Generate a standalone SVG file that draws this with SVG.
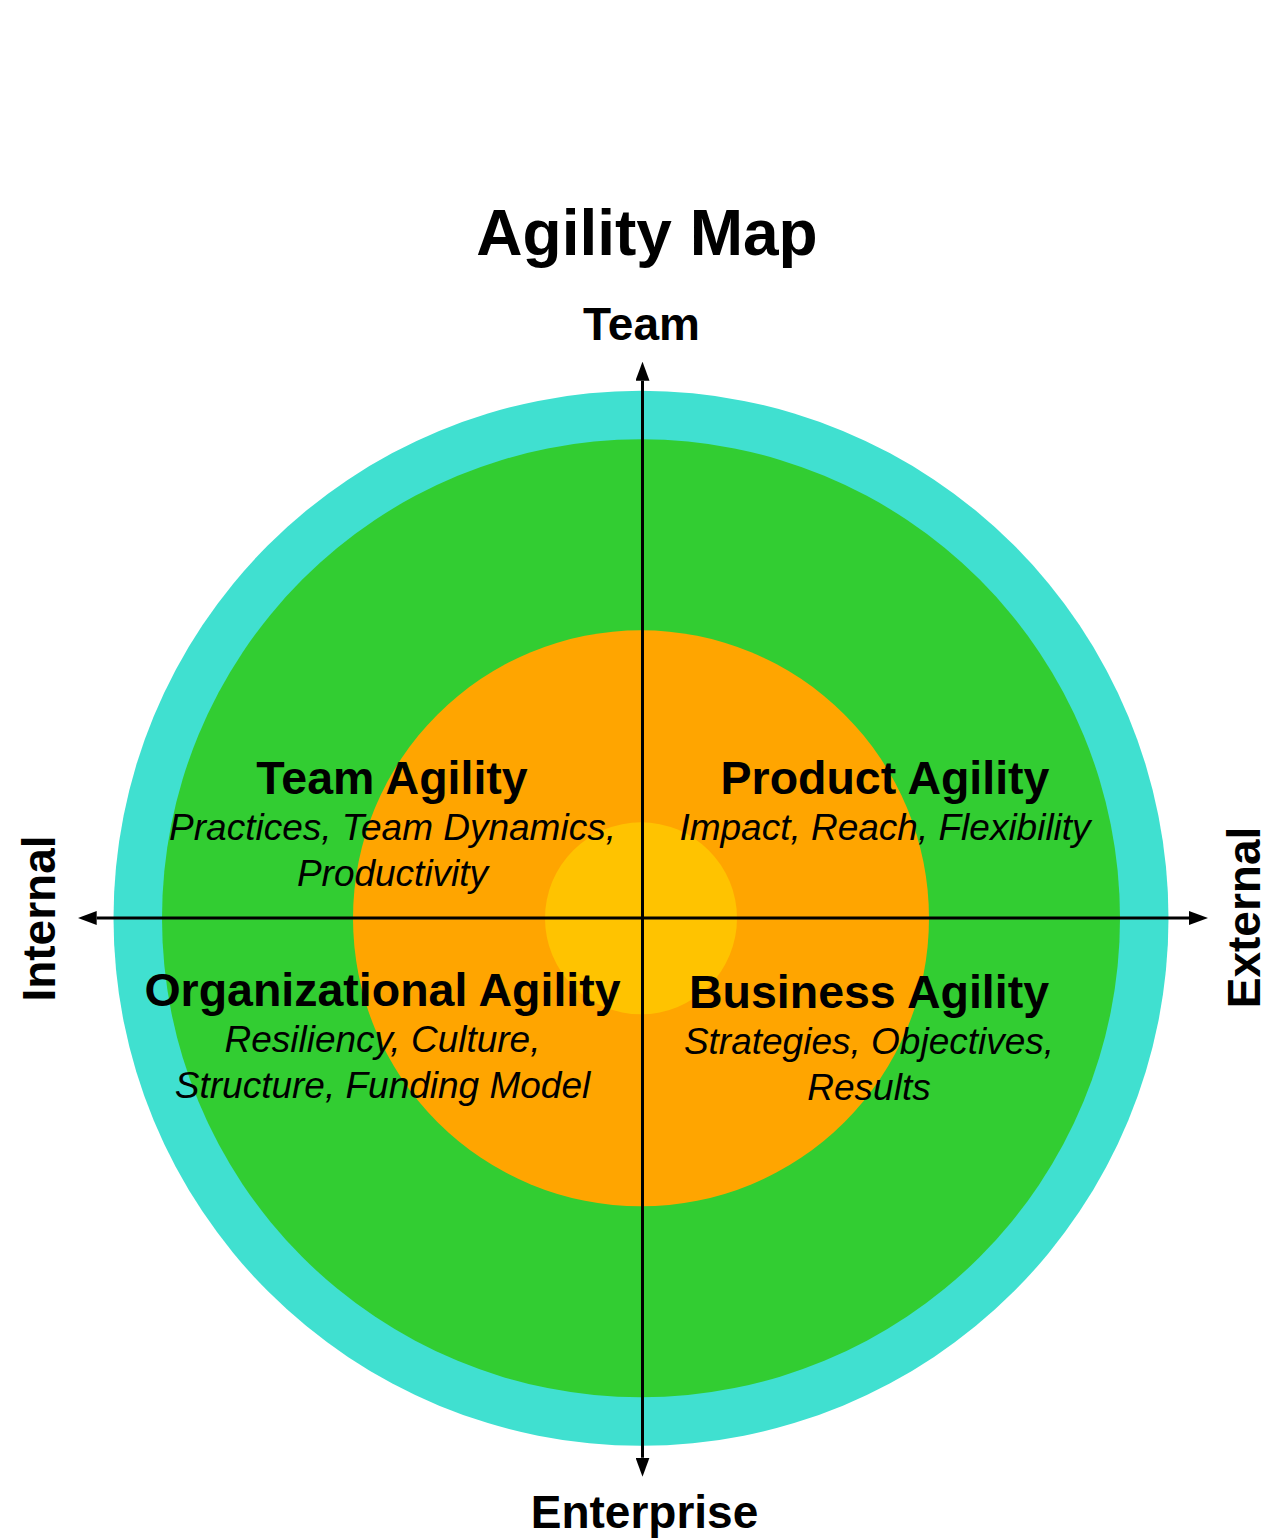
<svg xmlns="http://www.w3.org/2000/svg" width="1263" height="1538" viewBox="0 0 1263 1538">
<style>
.t{font-family:"Liberation Sans",Arial,sans-serif;fill:#000;text-anchor:middle}
.title{font-size:64px;font-weight:bold}
.ax{font-size:46px;font-weight:bold}
.h{font-size:46.5px;font-weight:bold}
.s{font-size:37px;font-style:italic}
.axis{stroke:#000;stroke-width:3;fill:none}
</style>
<defs>
<marker id="arr" markerUnits="userSpaceOnUse" markerWidth="19" markerHeight="14" refX="0" refY="7" orient="auto-start-reverse">
<path d="M0,0 L19,7 L0,14 z" fill="#000"/>
</marker>
</defs>
<rect width="1263" height="1538" fill="#fff"/>
<g id="rings">
<circle id="ring-outer" cx="641" cy="918.3" r="527.5" fill="#40E0D0"/>
<circle id="ring-green" cx="641" cy="918.3" r="479" fill="#32CD32"/>
<circle id="ring-orange" cx="641" cy="918.3" r="288" fill="#FFA500"/>
<circle id="ring-core" cx="641" cy="918.3" r="96" fill="#FFC300"/>
</g>
<g id="connectors">
<line class="axis" x1="642.5" y1="380.7" x2="642.5" y2="1457.7" marker-start="url(#arr)" marker-end="url(#arr)"/>
<line class="axis" x1="96.7" y1="918" x2="1189" y2="918" marker-start="url(#arr)" marker-end="url(#arr)"/>
</g>
<g id="title"><text class="t title" x="647" y="255">Agility Map</text></g>
<g id="label-team"><text class="t ax" x="641.5" y="340">Team</text></g>
<g id="label-enterprise"><text class="t ax" x="644.5" y="1528">Enterprise</text></g>
<g id="label-internal"><text class="t ax" transform="translate(55,918.5) rotate(-90)" x="0" y="0">Internal</text></g>
<g id="label-external"><text class="t ax" transform="translate(1260,917.5) rotate(-90)" x="0" y="0">External</text></g>
<g id="team-agility">
<text class="t h" x="392" y="794">Team Agility</text>
<text class="t s" x="392.5" y="840">Practices, Team Dynamics,</text>
<text class="t s" x="392.5" y="886">Productivity</text>
</g>
<g id="product-agility">
<text class="t h" x="885" y="794">Product Agility</text>
<text class="t s" x="885" y="840">Impact, Reach, Flexibility</text>
</g>
<g id="organizational-agility">
<text class="t h" x="382.5" y="1006">Organizational Agility</text>
<text class="t s" x="382.5" y="1052">Resiliency, Culture,</text>
<text class="t s" x="382.5" y="1098">Structure, Funding Model</text>
</g>
<g id="business-agility">
<text class="t h" x="869" y="1008">Business Agility</text>
<text class="t s" x="869" y="1054">Strategies, Objectives,</text>
<text class="t s" x="869" y="1100">Results</text>
</g>
</svg>
